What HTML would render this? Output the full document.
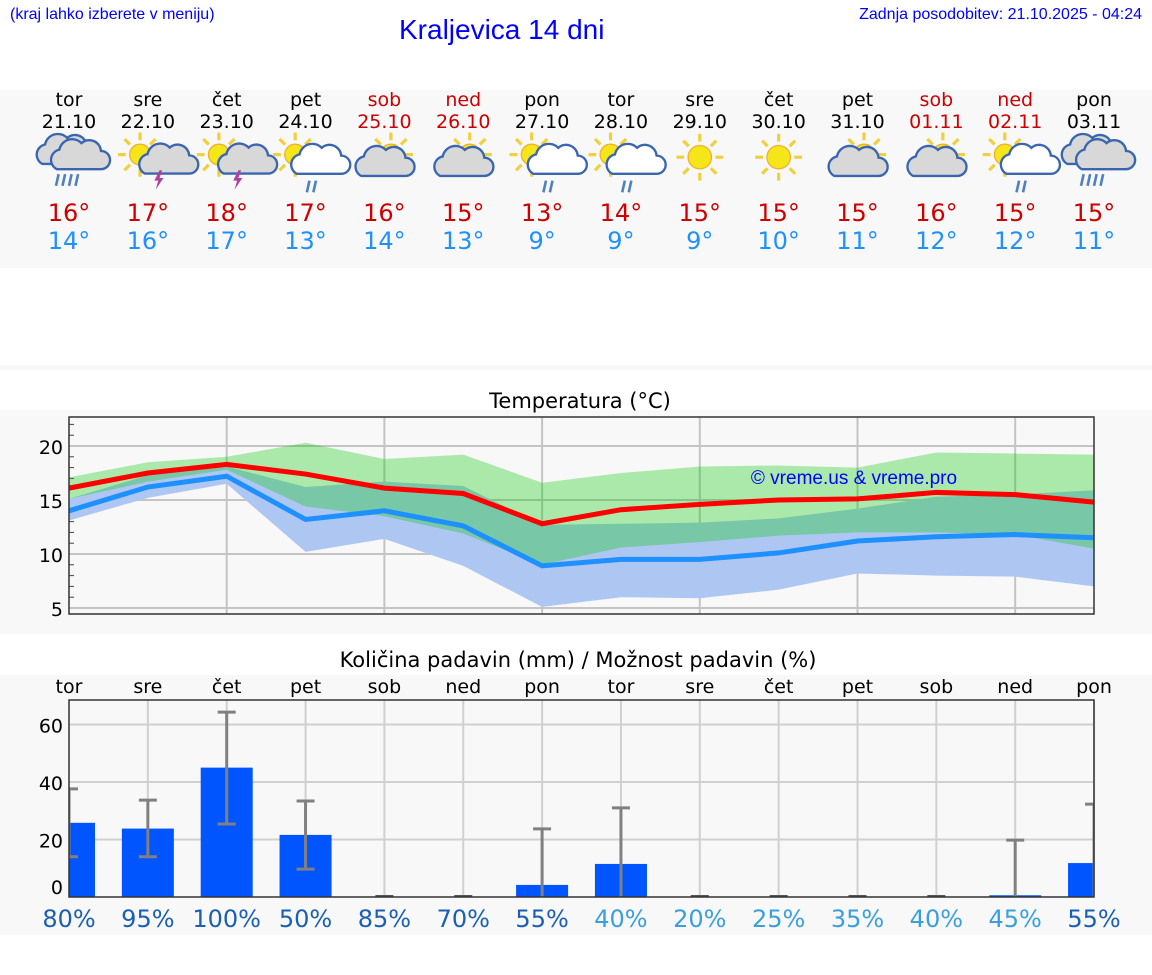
<!DOCTYPE html>
<html><head><meta charset="utf-8">
<style>
body{margin:0;width:1152px;height:975px;background:#fff;position:relative;overflow:hidden;font-family:"DejaVu Sans","Liberation Sans",sans-serif}
.abs{position:absolute}
.band{position:absolute;left:0;width:1152px;background:#f8f8f8}
</style></head><body>
<div class="abs" style="left:10px;top:6px;font:16px 'Liberation Sans',sans-serif;color:#0000ff">(kraj lahko izberete v meniju)</div>
<div class="abs" style="left:399px;top:14px;font:28px 'Liberation Sans',sans-serif;color:#0000ff">Kraljevica 14 dni</div>
<div class="abs" style="right:10px;top:6px;font:16px 'Liberation Sans',sans-serif;color:#0000ff">Zadnja posodobitev: 21.10.2025 - 04:24</div>
<div class="band" style="top:90px;height:178px"></div>
<div class="band" style="top:365px;height:5px"></div>
<div class="band" style="top:410px;height:224px"></div>
<div class="band" style="top:675px;height:260px"></div>
<div id="days"></div>
<svg id="chart" class="abs" style="left:0;top:0" width="1152" height="975"></svg>
<script>
const dayNames=["tor","sre","čet","pet","sob","ned","pon","tor","sre","čet","pet","sob","ned","pon"];
const dates=["21.10","22.10","23.10","24.10","25.10","26.10","27.10","28.10","29.10","30.10","31.10","01.11","02.11","03.11"];
const weekend=[0,0,0,0,1,1,0,0,0,0,0,1,1,0];
const icons=["rain","storm","storm","sunrain","suncloud","suncloud","sunrain","sunrain","sun","sun","suncloud","suncloud","sunrain","rain"];
const maxT=[16,17,18,17,16,15,13,14,15,15,15,16,15,15];
const minT=[14,16,17,13,14,13,9,9,9,10,11,12,12,11];
// temperature chart series
const maxLine=[16.1,17.5,18.3,17.4,16.1,15.6,12.8,14.1,14.6,15.0,15.1,15.7,15.5,14.8];
const minLine=[14.0,16.2,17.2,13.2,14.0,12.6,8.9,9.5,9.5,10.1,11.2,11.6,11.8,11.5];
const maxBandHi=[17.1,18.5,19.0,20.3,18.8,19.2,16.6,17.5,18.1,18.2,18.0,19.4,19.3,19.2];
const maxBandLo=[15.1,16.7,17.8,14.4,13.5,11.9,9.0,10.6,11.1,11.7,12.0,12.0,11.8,10.5];
const minBandHi=[15.1,17.3,18.1,16.2,16.7,16.3,12.7,12.8,12.9,13.3,14.2,15.3,15.5,15.9];
const minBandLo=[13.1,15.2,16.5,10.2,11.4,8.9,5.1,6.0,5.9,6.7,8.2,8.0,7.9,7.0];
const tempTicks=[5,10,15,20];
// precipitation series
const precip=[25.8,23.8,45,21.6,0,0,4.2,11.5,0,0,0,0,0.6,11.8];
const errLo=[14,14,25.4,9.7,0,0,0,0,0,0,0,0,0,0];
const errHi=[37.6,33.7,64.3,33.4,0,0,23.7,31,0,0,0,0,19.8,32.3];
const chance=[80,95,100,50,85,70,55,40,20,25,35,40,45,55];
const precipTicks=[0,20,40,60];

const NS="http://www.w3.org/2000/svg";
const svg=document.getElementById('chart');
function mk(tag,attrs,parent){const e=document.createElementNS(NS,tag);for(const k in attrs)e.setAttribute(k,attrs[k]);(parent||svg).appendChild(e);return e;}
const X=i=>69+i*78.85;
const days=document.getElementById('days');
for(let i=0;i<14;i++){
  const cx=X(i);
  const c=weekend[i]?'#cc0000':'#000';
  const d=document.createElement('div');
  d.className='abs';
  
  
  d.style.cssText=`left:${cx-40}px;top:89px;width:80px;text-align:center;font-size:19px;line-height:22px;color:${c}`;
  d.innerHTML=`<div>${dayNames[i]}</div><div>${dates[i]}</div><div style="height:66px"></div><div style="color:#cc0000;font-size:24px;line-height:28px">${maxT[i]}°</div><div style="color:#1e90ff;font-size:24px;line-height:28px">${minT[i]}°</div>`;
  days.appendChild(d);
  const g=mk('g',{transform:`translate(${cx},165) scale(1.3)`});
  
  
  drawIcon(g,icons[i]);
}
function sun(g,x,y,r){for(let k=0;k<8;k++){const a=k*Math.PI/4;mk('line',{x1:x+Math.cos(a)*(r+3),y1:y+Math.sin(a)*(r+3),x2:x+Math.cos(a)*(r+9),y2:y+Math.sin(a)*(r+9),stroke:'#f0d040','stroke-width':2.5},g);}mk('circle',{cx:x,cy:y,r:r,fill:'#f5e61a',stroke:'#f0b030','stroke-width':1},g);}
function cloud(g,x,y,s,fill){mk('path',{d:`M${x-16*s},${y+8*s} a8,8 0 0 1 2,-15 a10,10 0 0 1 17,-5 a9,9 0 0 1 15,6 a7,7 0 0 1 0,14 z`,fill:fill,stroke:'#3a66b0','stroke-width':1.8},g);}
function rain(g,x,y,n){for(let k=0;k<n;k++)mk('line',{x1:x+k*5,y1:y,x2:x+k*5-2,y2:y+9,stroke:'#5080c0','stroke-width':2},g);}
function drawIcon(g,t){
  if(t==='rain'){cloud(g,-6,-8,0.9,'#d8d8d8');cloud(g,5,-4,0.9,'#d8d8d8');rain(g,-8,7,4);}
  else if(t==='storm'){sun(g,-6,-8,8);cloud(g,9,1,0.7,'#d8d8d8');mk('path',{d:'M9,4 l-4,8 h3 l-2,7 l6,-9 h-3 l2,-6z',fill:'#b040a0'},g);}
  else if(t==='sunrain'){sun(g,-8,-8,8);cloud(g,7,0,0.85,'#fff');rain(g,3,12,2);}
  else if(t==='suncloud'){sun(g,5,-8,8);cloud(g,-5,2,0.8,'#d8d8d8');}
  else sun(g,0,-6,9);
}
// temperature chart
const TY=v=>446+(20-v)*10.8;
mk('text',{x:580,y:408,'text-anchor':'middle','font-size':21,'font-family':'DejaVu Sans,sans-serif',fill:'#000'}).textContent='Temperatura (°C)';
for(let v=5;v<=22;v++){mk('line',{x1:69,x2:74,y1:TY(v),y2:TY(v),stroke:'#444','stroke-width':1});}
tempTicks.forEach(v=>{mk('line',{x1:69,x2:1094,y1:TY(v),y2:TY(v),stroke:'#c4c4c4','stroke-width':2});const t=mk('text',{x:63,y:TY(v)+8,'text-anchor':'end','font-size':19,fill:'#000'});t.textContent=v;});
for(let i=2;i<14;i+=2)mk('line',{x1:X(i),x2:X(i),y1:417,y2:614,stroke:'#c4c4c4','stroke-width':2});
function band(hi,lo,fill,name){let d='';hi.forEach((v,i)=>d+=(i?'L':'M')+X(i)+','+TY(v));for(let i=lo.length-1;i>=0;i--)d+='L'+X(i)+','+TY(lo[i]);const p=mk('path',{d:d+'Z',fill:fill});}
band(minBandHi,minBandLo,'#aec7f2','min-temp-range');
band(maxBandHi,maxBandLo,'rgba(0,200,0,0.31)','max-temp-range');
function line(arr,col,name){const p=mk('polyline',{points:arr.map((v,i)=>X(i)+','+TY(v)).join(' '),fill:'none',stroke:col,'stroke-width':5});}
line(maxLine,'#ff0000','max-temp-line');
line(minLine,'#1e90ff','min-temp-line');
mk('rect',{x:69,y:417,width:1025,height:197,fill:'none',stroke:'#333','stroke-width':1.5});
const wm=mk('text',{x:854,y:484,'text-anchor':'middle','font-size':19,'font-family':'Liberation Sans,sans-serif',fill:'#0000ff'});wm.textContent='© vreme.us & vreme.pro';

// precip chart
const PY=v=>897-v*2.875;
mk('text',{x:578,y:667,'text-anchor':'middle','font-size':21,fill:'#000'}).textContent='Količina padavin (mm) / Možnost padavin (%)';
for(let i=0;i<14;i++){const t=mk('text',{x:X(i),y:693,'text-anchor':'middle','font-size':19,fill:'#000'});t.textContent=dayNames[i];}
precipTicks.forEach(v=>{if(v>0)mk('line',{x1:69,x2:1094,y1:PY(v),y2:PY(v),stroke:'#d0d0d0','stroke-width':2});const t=mk('text',{x:63,y:PY(v)+(v===0?-3:8),'text-anchor':'end','font-size':19,fill:'#000'});t.textContent=v;});
for(let i=1;i<14;i++)mk('line',{x1:X(i),x2:X(i),y1:700,y2:897,stroke:'#d0d0d0','stroke-width':2});
const clip=mk('clipPath',{id:'pc'});mk('rect',{x:69,y:695,width:1025,height:202},clip);
const pg=mk('g',{'clip-path':'url(#pc)'});
for(let i=0;i<14;i++){
  if(precip[i]>0){const r=mk('rect',{x:X(i)-26,y:PY(precip[i]),width:52,height:897-PY(precip[i]),fill:'#0055ff'},pg);}
  if(errHi[i]>0){mk('line',{x1:X(i),x2:X(i),y1:PY(errHi[i]),y2:PY(errLo[i]),stroke:'#808080','stroke-width':3},pg);
    mk('line',{x1:X(i)-9,x2:X(i)+9,y1:PY(errHi[i]),y2:PY(errHi[i]),stroke:'#808080','stroke-width':3},pg);
    if(errLo[i]>0)mk('line',{x1:X(i)-9,x2:X(i)+9,y1:PY(errLo[i]),y2:PY(errLo[i]),stroke:'#808080','stroke-width':3},pg);}
  else mk('line',{x1:X(i)-9,x2:X(i)+9,y1:896,y2:896,stroke:'#555','stroke-width':2},pg);
  const t=mk('text',{x:X(i),y:927,'text-anchor':'middle','font-size':24,fill:chance[i]>=50?'#1a5fb4':'#3a9fdf'});t.textContent=chance[i]+'%';
  
}
mk('rect',{x:69,y:700,width:1025,height:197,fill:'none',stroke:'#333','stroke-width':1.5});
</script>
</body></html>
